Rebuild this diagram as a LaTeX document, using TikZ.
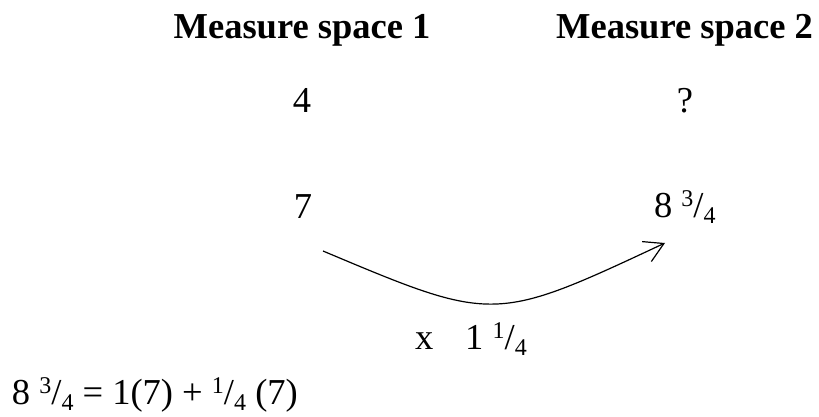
\documentclass[tikz,border=0pt]{standalone}
\usepackage{fontspec}
\setmainfont{Liberation Serif}
\usetikzlibrary{arrows.meta}
\newcommand{\myfrac}[2]{\raisebox{11pt}{\fontsize{24}{24}\selectfont #1}/\raisebox{-6pt}{\fontsize{24}{24}\selectfont #2}}
\begin{document}
\begin{tikzpicture}[x=1pt,y=1pt,
  txt/.style={inner sep=0pt, outer sep=0pt, font=\fontsize{36.5}{40}\selectfont, anchor=base},
  hdr/.style={txt, font=\fontsize{36.5}{40}\selectfont\bfseries},
  curvearrow/.style={line width=1.2pt, -{Straight Barb[length=19pt,width=22pt,line width=1.2pt]}}]
\useasboundingbox (0,0) rectangle (819,417);
\node[hdr] (h1) at (302,378) {Measure space 1};
\node[hdr] (h2) at (684.5,378) {Measure space 2};
\node[txt] (four) at (302,304) {4};
\node[txt] (q) at (685,304) {?};
\node[txt] (seven) at (303,198) {7};
\node[txt, anchor=base west] (eight) at (654,199) {8 \myfrac{3}{4}};
\node[txt, anchor=base west] (factor) at (415,67) {x\hspace{32pt}1 \myfrac{1}{4}};
\node[txt, anchor=base west] (eq) at (12,12) {8 \myfrac{3}{4} = 1(7) + \myfrac{1}{4} (7)};
\coordinate (astart) at (323,166);
\coordinate (aend) at (665,174);
\draw[curvearrow] (astart) .. controls (494,94) and (494,94) .. (aend);
\end{tikzpicture}
\end{document}
